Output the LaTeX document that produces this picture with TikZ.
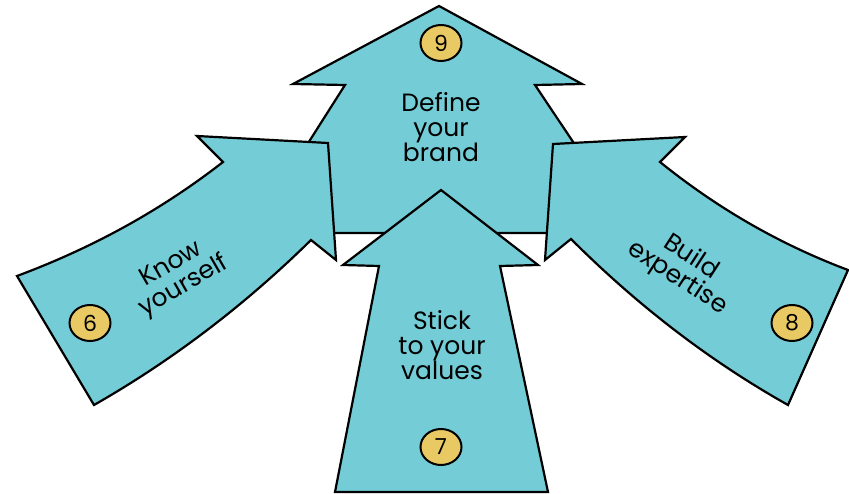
\documentclass[tikz,border=0pt]{standalone}
\usepackage{fontspec}
\setmainfont{Poppins}
\usetikzlibrary{shapes.geometric}
\definecolor{arrowteal}{RGB}{116,205,214}
\definecolor{badgegold}{RGB}{232,201,99}

\begin{document}
\begin{tikzpicture}[x=1pt,y=-1pt,
  arrowshape/.style={draw=black,line width=2.2pt,fill=arrowteal,line join=miter},
  badge/.style={ellipse,draw=black,line width=2pt,fill=badgegold,inner sep=0pt,
    minimum width=41pt,minimum height=36pt,font=\fontsize{22}{22}\selectfont},
  steplabel/.style={align=center,font=\fontsize{25}{25}\selectfont}]
  \useasboundingbox (0,0) rectangle (849,494);
  % top arrow
  \draw[arrowshape] (439,6) -- (582,84) -- (535,85) -- (634,233) -- (251,233)
    -- (345,85) -- (293,84) -- cycle;
  % left curved arrow
  \draw[arrowshape] (17,276) .. controls (92,248) and (160,211) .. (223,162)
    -- (197,136) -- (328,143) -- (336,260) -- (311,240)
    .. controls (246,304) and (173,360) .. (94,405) -- cycle;
  % right curved arrow
  \draw[arrowshape] (848,270) .. controls (779,244) and (717,208) .. (660,162)
    -- (685,137) -- (553,144) -- (545,260) -- (571,239)
    .. controls (636,304) and (708,360) .. (788,405) -- cycle;
  % middle arrow
  \draw[arrowshape] (441,190) -- (538,265) -- (500,266) -- (548,492)
    -- (335,492) -- (379,266) -- (343,265) -- cycle;

  \node[badge] (n9) at (441,43) {9};
  \node[badge] (n6) at (90,323) {6};
  \node[badge] (n7) at (441,447) {7};
  \node[badge] (n8) at (792,323) {8};

  \node[steplabel] (brand) at (441,127) {Define\\your\\brand};
  \node[steplabel] (values) at (442,345) {Stick\\to your\\values};
  \node[steplabel,rotate=30] (self) at (178,276) {Know\\yourself};
  \node[steplabel,rotate=-33] (expert) at (684,268) {Build\\expertise};
\end{tikzpicture}
\end{document}
